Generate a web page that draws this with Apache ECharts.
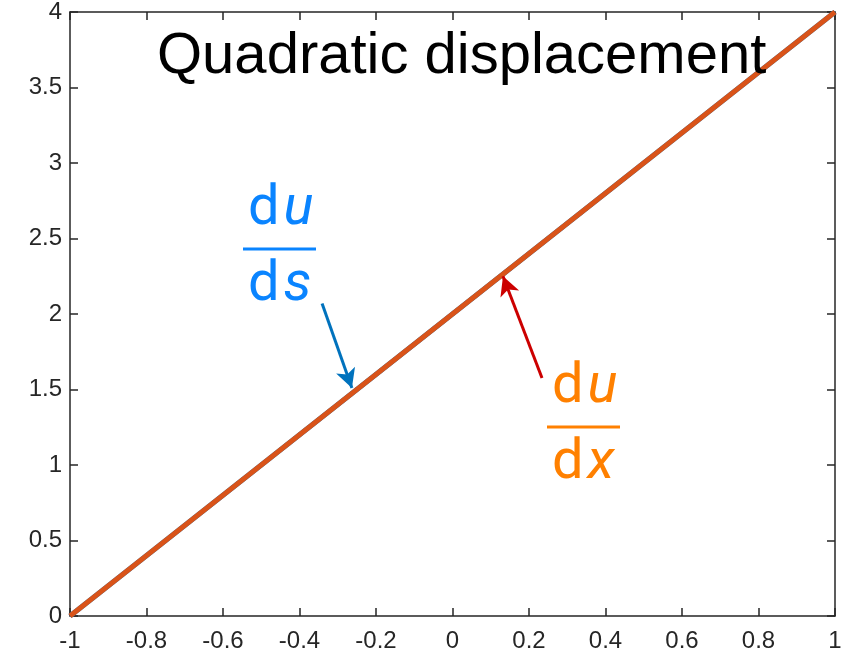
<!DOCTYPE html>
<html>
<head>
<meta charset="utf-8">
<script src="https://cdn.jsdelivr.net/npm/echarts@6/dist/echarts.min.js"></script>
<style>
  html, body { margin: 0; padding: 0; background: #fff; }
  #main { width: 852px; height: 660px; }
</style>
</head>
<body>
<div id="main"></div>
<script>
// data
const xVals = [-1, 1];
const dudsVals = [0, 4];
const dudxVals = [0, 4];
// arrows: [tail, tip] in data units
const blueArrow = [[-0.341, 2.07], [-0.263, 1.51]];
const redArrow = [[0.234, 1.576], [0.132, 2.25]];

const axisColor = '#262626';
const fontTick = 'Liberation Sans';

const chart = echarts.init(document.getElementById('main'));

function axisBase(extra) {
  return Object.assign({
    type: 'value',
    axisLine: { show: true, onZero: false, lineStyle: { color: axisColor, width: 1.5 } },
    axisTick: { show: true, inside: true, length: 8, lineStyle: { color: axisColor, width: 1.5 } },
    splitLine: { show: false }
  }, extra);
}

// fraction label: numerator / bar / denominator, all real text
function frac(num, den, color, x, baseline) {
  const rich = {
    r: { fontFamily: 'Roboto', fontSize: 56, fill: color, color: color },
    s: { fontFamily: 'Roboto', fontSize: 56, fill: color, color: color, width: 4 },
    i: { fontFamily: 'Roboto', fontStyle: 'italic', fontSize: 56, fill: color, color: color }
  };
  return [
    { type: 'text', z: 10, x: x, y: baseline - 17,
      style: { text: '{r|d}{s|}{i|' + num + '}', rich: rich, verticalAlign: 'middle', fill: color } },
    { type: 'line', z: 10, shape: { x1: x - 5, y1: baseline + 22, x2: x + 68, y2: baseline + 22 },
      style: { stroke: color, lineWidth: 3 } },
    { type: 'text', z: 10, x: x, y: baseline + 76 - 17,
      style: { text: '{r|d}{s|}{i|' + den + '}', rich: rich, verticalAlign: 'middle', fill: color } }
  ];
}

const option = {
  animation: false,
  backgroundColor: '#fff',
  grid: { left: 70, right: 17, top: 12, bottom: 44, containLabel: false },
  xAxis: [
    axisBase({
      min: -1, max: 1, interval: 0.2,
      axisLabel: { color: axisColor, fontSize: 24, fontFamily: fontTick, margin: 13,
        formatter: v => String(Math.round(v * 10) / 10) }
    }),
    axisBase({ position: 'top', min: -1, max: 1, interval: 0.2, axisLabel: { show: false } })
  ],
  yAxis: [
    axisBase({
      min: 0, max: 4, interval: 0.5,
      axisLabel: { color: axisColor, fontSize: 24, fontFamily: fontTick, margin: 8 }
    }),
    axisBase({ position: 'right', min: 0, max: 4, interval: 0.5, axisLabel: { show: false } })
  ],
  graphic: [
    { type: 'text', z: 20, x: 157, y: 75 - 18,
      style: { text: 'Quadratic displacement', fontFamily: 'Liberation Sans',
        fontSize: 58, fill: '#000', verticalAlign: 'middle' } }
  ].concat(frac('u', 's', '#0A84FF', 248, 227))
   .concat(frac('u', 'x', '#FF8000', 552, 405)),
  series: [
    {
      name: 'du/ds', type: 'line', symbol: 'none',
      data: xVals.map((x, i) => [x, dudsVals[i]]),
      lineStyle: { color: '#0072BD', width: 5 }, z: 2,
      markLine: {
        silent: true, symbol: ['none', 'arrow'], symbolSize: [15, 19],
        label: { show: false },
        lineStyle: { color: '#0072BD', width: 3, type: 'solid' },
        data: [[{ coord: blueArrow[0] }, { coord: blueArrow[1] }]]
      }
    },
    {
      name: 'du/dx', type: 'line', symbol: 'none',
      data: xVals.map((x, i) => [x, dudxVals[i]]),
      lineStyle: { color: '#D95319', width: 5 }, z: 3,
      markLine: {
        silent: true, symbol: ['none', 'arrow'], symbolSize: [15, 19],
        label: { show: false },
        lineStyle: { color: '#CC0000', width: 3, type: 'solid' },
        data: [[{ coord: redArrow[0] }, { coord: redArrow[1] }]]
      }
    }
  ]
};

chart.setOption(option);
</script>
</body>
</html>
